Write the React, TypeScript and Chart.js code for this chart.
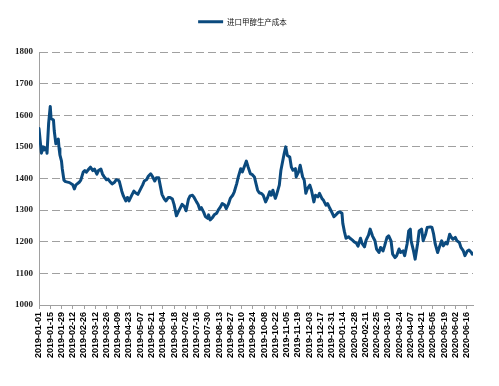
import { useEffect, useRef } from 'react';
import { Chart, registerables } from 'chart.js';

Chart.register(...registerables);

const seriesName = '进口甲醇生产成本';

const tickLabels = [
  '2019-01-01', '2019-01-15', '2019-01-29', '2019-02-12', '2019-02-26', '2019-03-12', '2019-03-26',
  '2019-04-09', '2019-04-23', '2019-05-07', '2019-05-21', '2019-06-04', '2019-06-18', '2019-07-02',
  '2019-07-16', '2019-07-30', '2019-08-13', '2019-08-27', '2019-09-10', '2019-09-24', '2019-10-08',
  '2019-10-22', '2019-11-05', '2019-11-19', '2019-12-03', '2019-12-17', '2019-12-31', '2020-01-14',
  '2020-01-28', '2020-02-11', '2020-02-25', '2020-03-10', '2020-03-24', '2020-04-07', '2020-04-21',
  '2020-05-05', '2020-05-19', '2020-06-02', '2020-06-16',
];
const tickStepDays = 14;

// days since 2019-01-01
const dayOffsets = [
  0, 2, 3, 5, 6, 9, 10, 12, 14, 15, 18, 19, 21, 24, 25, 26, 28, 29, 31, 33,
  38, 42, 44, 46, 50, 52, 55, 57, 59, 62, 64, 67, 69, 72, 74, 77, 79, 81, 84, 86,
  89, 91, 94, 96, 99,
  100, 103, 105, 108, 110, 112, 115, 118, 120, 123, 126, 129, 131, 134, 136, 139, 141, 144, 146, 149,
  151, 153, 156, 158, 161, 163, 166, 168, 171, 173, 176, 178, 181, 183, 186, 188, 191, 193, 196, 198,
  200, 202, 205, 207, 210,
  211, 213, 216, 218, 221, 223, 226, 228, 231, 233, 236, 238, 241, 243, 246, 248, 251, 253, 256, 258,
  260, 263, 265, 268, 270, 272, 274, 277, 279, 282, 284, 287, 289, 291, 294, 296, 299, 301, 303, 305,
  307, 309, 312,
  314, 316, 319, 320, 323, 325, 328, 330, 332, 334, 337, 339, 342, 344, 347, 349, 352, 354, 357, 359,
  362, 364, 367, 369, 372, 374, 377, 378, 380, 382, 385, 387, 390, 392, 395, 397, 400, 402, 405, 407,
  410,
  412, 415, 418, 420, 423, 425, 428, 430, 433, 435, 438, 440, 443, 445, 448, 450, 453, 455, 458, 460,
  462, 463, 466, 468, 471, 473, 476, 478, 481, 483, 487, 489, 491, 493, 496, 498, 501, 503, 506, 508,
  511, 513, 515, 518, 520, 523, 525, 528, 530, 533, 535, 538, 539,
];

const costs = [
  1558, 1506, 1480, 1500, 1490, 1497, 1480, 1575, 1628, 1590, 1585, 1550, 1510, 1525, 1495, 1475, 1455, 1430, 1395, 1390,
  1387, 1380, 1367, 1380, 1388, 1395, 1420, 1425, 1420, 1430, 1436, 1425, 1430, 1414, 1425, 1430, 1414, 1406, 1396, 1398,
  1388, 1383, 1388, 1396, 1394,
  1390, 1360, 1345, 1329, 1340, 1329, 1345, 1360, 1355, 1350, 1365, 1380, 1392, 1397, 1407, 1415, 1407, 1392, 1402, 1402,
  1376, 1350, 1335, 1329, 1340, 1340, 1335, 1318, 1282, 1293, 1308, 1318, 1311, 1298, 1335, 1345, 1347, 1340, 1326, 1318,
  1303, 1308, 1293, 1280, 1274,
  1285, 1269, 1277, 1285, 1290, 1300, 1311, 1321, 1316, 1305, 1321, 1337, 1347, 1358, 1384, 1405, 1431, 1421, 1441, 1455,
  1438, 1415, 1413, 1405, 1384, 1363, 1355, 1352, 1347, 1326, 1337, 1358, 1347, 1363, 1337, 1352, 1379, 1426, 1452, 1478,
  1500, 1473, 1468,
  1436, 1426, 1431, 1405, 1421, 1442, 1405, 1395, 1353, 1368, 1379, 1363, 1326, 1347, 1342, 1353, 1337, 1331, 1316, 1321,
  1305, 1295, 1279, 1284, 1292, 1295, 1290, 1258, 1232, 1211, 1216, 1211, 1205, 1200, 1195, 1186, 1211, 1195, 1184, 1205,
  1221,
  1240, 1218, 1203, 1177, 1166, 1182, 1171, 1187, 1214, 1219, 1203, 1161, 1150, 1156, 1177, 1166, 1171, 1156, 1193, 1234,
  1240, 1203, 1171, 1145, 1193, 1234, 1240, 1203, 1224, 1245, 1247, 1245, 1224, 1193, 1166, 1182, 1203, 1187, 1198, 1193,
  1224, 1214, 1208, 1214, 1203, 1198, 1182, 1171, 1156, 1171, 1174, 1166, 1161,
];

const yMin = 1000;
const yMax = 1800;
const yStep = 100;
const xMaxDay = 540;

const LINE_COLOR = '#0b4a7e';
const GRID_COLOR = '#a0a0a0';
const AXIS_COLOR = '#a0a0a0';

export default function App() {
  const canvasRef = useRef<HTMLCanvasElement | null>(null);

  useEffect(() => {
    const canvas = canvasRef.current;
    if (!canvas) return;

    const legendTweaks = {
      id: 'legendTweaks',
      beforeInit(chart: any) {
        const legend = chart.legend;
        if (!legend) return;
        const origFit = legend.fit;
        legend.fit = function () {
          origFit.call(this);
          this.height = 44;
        };
      },
      afterLayout(chart: any) {
        const legend = chart.legend;
        if (!legend) return;
        legend.left += 6;
        legend.right += 6;
      },
    };

    const chart = new Chart(canvas, {
      type: 'line',
      data: {
        datasets: [
          {
            label: seriesName,
            data: dayOffsets.map((d, i) => ({ x: d, y: costs[i] })),
            borderColor: LINE_COLOR,
            backgroundColor: LINE_COLOR,
            borderWidth: 3,
            pointRadius: 0,
            tension: 0,
            borderJoinStyle: 'round',
            borderCapStyle: 'round',
            fill: false,
          },
        ],
      },
      options: {
        responsive: false,
        animation: false,
        devicePixelRatio: 1,
        layout: { padding: { top: 8, right: 26, bottom: 0, left: 0 } },
        plugins: {
          legend: {
            display: true,
            position: 'top',
            labels: {
              boxWidth: 25,
              boxHeight: 3,
              padding: 10,
              color: '#111',
              font: { family: '"Noto Sans CJK SC", "Noto Sans", sans-serif', size: 7.5 },
              generateLabels: (c: any) =>
                (Chart.defaults.plugins.legend.labels.generateLabels as any)(c).map((l: any) => ({
                  ...l,
                  lineWidth: 0,
                  fillStyle: LINE_COLOR,
                })),
            },
          },
          tooltip: { enabled: false },
        },
        scales: {
          x: {
            type: 'linear',
            min: 0,
            max: xMaxDay,
            afterBuildTicks: (scale: any) => {
              scale.ticks = tickLabels.map((_, i) => ({ value: i * tickStepDays }));
            },
            afterFit: (scale: any) => {
              scale.height = 81;
            },
            ticks: {
              autoSkip: false,
              minRotation: 90,
              maxRotation: 90,
              padding: 3,
              color: '#000',
              font: { family: '"Liberation Sans", Arial, sans-serif', size: 9, weight: 'bold' },
              callback: (value: any) => {
                const idx = Math.round(Number(value) / tickStepDays);
                return tickLabels[idx] ?? '';
              },
            },
            grid: {
              display: true,
              drawOnChartArea: false,
              drawTicks: true,
              tickLength: 4,
              color: AXIS_COLOR,
              lineWidth: 1,
            },
            border: { display: true, color: AXIS_COLOR, width: 1 },
          },
          y: {
            type: 'linear',
            min: yMin,
            max: yMax,
            afterFit: (scale: any) => {
              scale.width = 39;
            },
            ticks: {
              stepSize: yStep,
              padding: 6,
              color: '#222',
              font: { family: '"Liberation Serif", "Times New Roman", serif', size: 9, weight: 'bold' },
              callback: (value: any) => String(value),
            },
            grid: {
              display: true,
              drawTicks: false,
              color: GRID_COLOR,
              lineWidth: 1,
            },
            border: { display: true, color: AXIS_COLOR, width: 1, dash: [8, 4] },
          },
        },
      } as any,
      plugins: [legendTweaks],
    });

    return () => {
      chart.destroy();
    };
  }, []);

  return (
    <div style={{ position: 'fixed', left: 0, top: 0, width: 499, height: 386, background: '#fff' }}>
      <canvas ref={canvasRef} width={499} height={386} style={{ width: 499, height: 386, display: 'block' }} />
    </div>
  );
}
